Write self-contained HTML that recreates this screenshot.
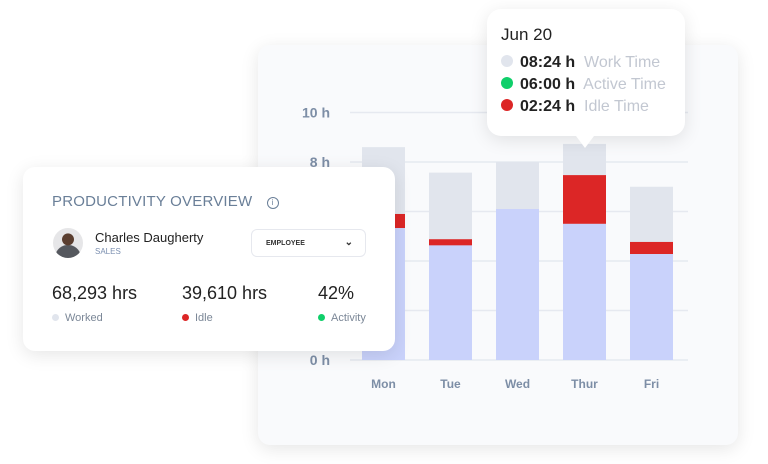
<!DOCTYPE html>
<html><head><meta charset="utf-8"><style>
body{margin:0;width:768px;height:464px;background:#fff;position:relative;overflow:hidden;font-family:"Liberation Sans",sans-serif}
.card{position:absolute;background:#f9fafc;border-radius:12px;box-shadow:0 4px 18px rgba(0,0,0,.10)}
</style></head><body>
<div class="card" style="left:258px;top:45px;width:480px;height:400px"></div>
<svg id="chart" width="768" height="464" style="position:absolute;left:0;top:0"></svg>
<div class="card" style="left:487px;top:9px;width:198px;height:127px;background:#fff;border-radius:14px">
 <div style="position:absolute;left:14px;top:16px;font-size:17px;color:#222">Jun 20</div>
 <div style="position:absolute;left:14px;top:43px;font-size:16px;line-height:22px;color:#222;white-space:nowrap">
  <div><span style="display:inline-block;width:12px;height:12px;border-radius:50%;background:#e1e5ed;margin-right:7px"></span><b>08:24 h</b>&nbsp; <span style="color:#c2c7d1">Work Time</span></div>
  <div><span style="display:inline-block;width:12px;height:12px;border-radius:50%;background:#0fcf6a;margin-right:7px"></span><b>06:00 h</b>&nbsp; <span style="color:#c2c7d1">Active Time</span></div>
  <div><span style="display:inline-block;width:12px;height:12px;border-radius:50%;background:#dc2626;margin-right:7px"></span><b>02:24 h</b>&nbsp; <span style="color:#c2c7d1">Idle Time</span></div>
 </div>
 <div style="position:absolute;left:89px;top:127px;width:0;height:0;border-left:9px solid transparent;border-right:9px solid transparent;border-top:12px solid #fff"></div>
</div>
<div class="card" style="left:23px;top:167px;width:372px;height:184px;background:#fff">
 <div style="position:absolute;left:29px;top:26px;font-size:15px;color:#6a7f98;letter-spacing:.2px">PRODUCTIVITY OVERVIEW <span style="display:inline-block;width:10px;height:10px;border:1.3px solid #6a7f98;border-radius:50%;font-size:8px;text-align:center;line-height:10px;margin-left:10px;vertical-align:1px">i</span></div>
 <div style="position:absolute;left:30px;top:61px;width:30px;height:30px;border-radius:50%;background:radial-gradient(circle at 50% 38%,#5a3e30 0 24%,transparent 26%),radial-gradient(circle at 50% 100%,#55585e 0 38%,#e6e6e8 40%)"></div>
 <div style="position:absolute;left:72px;top:63px;font-size:13px;color:#222">Charles Daugherty</div>
 <div style="position:absolute;left:72px;top:80px;font-size:8px;color:#7b8fb0">SALES</div>
 <div style="position:absolute;left:228px;top:62px;width:115px;height:28px;border:1px solid #e6e8ee;border-radius:6px;font-size:7px;font-weight:bold;color:#333;line-height:28px;padding-left:14px;box-sizing:border-box">EMPLOYEE<span style="position:absolute;right:12px;top:-1px;font-size:10px">⌄</span></div>
 <div style="position:absolute;left:29px;top:116px;font-size:18px;color:#222">68,293 hrs</div>
 <div style="position:absolute;left:159px;top:116px;font-size:18px;color:#222">39,610 hrs</div>
 <div style="position:absolute;left:295px;top:116px;font-size:18px;color:#222">42%</div>
 <div style="position:absolute;left:29px;top:145px;font-size:11px;color:#7b8797"><span style="display:inline-block;width:7px;height:7px;border-radius:50%;background:#e1e5ed;margin-right:6px"></span>Worked</div>
 <div style="position:absolute;left:159px;top:145px;font-size:11px;color:#7b8797"><span style="display:inline-block;width:7px;height:7px;border-radius:50%;background:#dc2626;margin-right:6px"></span>Idle</div>
 <div style="position:absolute;left:295px;top:145px;font-size:11px;color:#7b8797"><span style="display:inline-block;width:7px;height:7px;border-radius:50%;background:#0fcf6a;margin-right:6px"></span>Activity</div>
</div>
<script>
const days=["Mon","Tue","Wed","Thur","Fri"];
const totalHours=[8.6,7.57,8.0,8.73,7.0];
const idleTopHours=[5.9,4.88,6.1,7.47,4.77];
const activeHours=[5.33,4.63,6.1,5.5,4.28];
const yTicks=[0,2,4,6,8,10];
const yTickLabels=["0 h","","","","8 h","10 h"];
const NS="http://www.w3.org/2000/svg",svg=document.getElementById("chart");
const y=v=>360-v*24.75, x=i=>362+i*67, bw=43;
function mk(t,a){const e=document.createElementNS(NS,t);for(const k in a)e.setAttribute(k,a[k]);svg.appendChild(e);return e;}
yTicks.forEach((v,i)=>{
 const l=mk("line",{x1:350,x2:688,y1:y(v),y2:y(v),stroke:"#e6e9f0","stroke-width":1.5});
 
 
 if(yTickLabels[i]){const t=mk("text",{x:330,y:y(v)+5,"text-anchor":"end","font-size":14,"font-weight":"bold",fill:"#7d8ea6"});t.textContent=yTickLabels[i];
 
 }
});
days.forEach((d,i)=>{
 const g=mk("rect",{x:x(i),y:y(totalHours[i]),width:bw,height:y(0)-y(totalHours[i]),fill:"#e1e5ed"});
 
 
 const r=mk("rect",{x:x(i),y:y(idleTopHours[i]),width:bw,height:Math.max(0,y(activeHours[i])-y(idleTopHours[i])),fill:"#dc2626"});
 
 
 const b=mk("rect",{x:x(i),y:y(activeHours[i]),width:bw,height:y(0)-y(activeHours[i]),fill:"#c9d2fb"});
 
 
 const t=mk("text",{x:x(i)+bw/2,y:388,"text-anchor":"middle","font-size":12,"font-weight":"bold",fill:"#7d8ea6"});t.textContent=d;
 
 
});
</script>
</body></html>
